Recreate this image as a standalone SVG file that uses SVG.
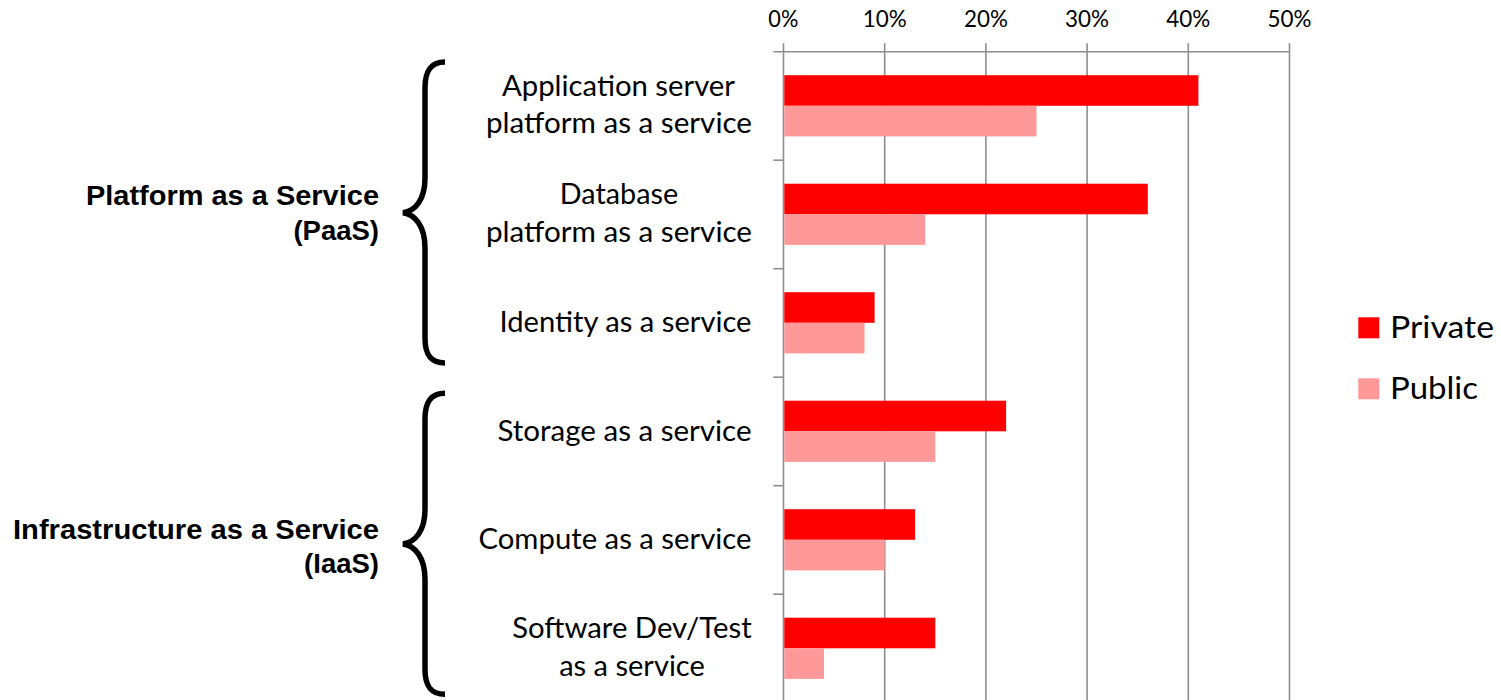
<svg xmlns="http://www.w3.org/2000/svg" width="1501" height="700" viewBox="0 0 1501 700">
  <style>
    .grid { stroke: #8e8e8e; stroke-width: 1.6; fill: none; }
    .tick { font-family: Lato, "Liberation Sans", sans-serif; font-size: 23px; fill: #000; text-anchor: middle; }
    .cat { font-family: Lato, "Liberation Sans", sans-serif; font-size: 28px; fill: #000; }
    .grp { font-family: "Liberation Sans", Arial, sans-serif; font-weight: bold; font-size: 27.5px; fill: #000; text-anchor: end; }
    .leg { font-family: Lato, "Liberation Sans", sans-serif; font-size: 30px; fill: #000; }
    .priv { fill: #ff0000; }
    .pub { fill: #ff9999; }
    .brace { fill: none; stroke: #000; stroke-width: 5.5; }
  </style>
  <defs>
    <path id="bracePath" d="M445,62 C430,62 425,72 425,88 L425,178 C425,200 415,211 403,212.7 C415,214.5 425,226 425,248 L425,338 C425,354 430,363 445,363"/>
  </defs>

  <!-- axis, gridlines and ticks -->
  <g id="axes">
    <line class="grid" x1="783.5" y1="43.3" x2="783.5" y2="700"/>
    <line class="grid" x1="884.7" y1="43.3" x2="884.7" y2="700"/>
    <line class="grid" x1="985.9" y1="43.3" x2="985.9" y2="700"/>
    <line class="grid" x1="1087.1" y1="43.3" x2="1087.1" y2="700"/>
    <line class="grid" x1="1188.3" y1="43.3" x2="1188.3" y2="700"/>
    <line class="grid" x1="1289.5" y1="43.3" x2="1289.5" y2="700"/>
    <line class="grid" x1="773.3" y1="51.7" x2="1289.5" y2="51.7"/>
    <line class="grid" x1="773.3" y1="160.2" x2="783.5" y2="160.2"/>
    <line class="grid" x1="773.3" y1="268.7" x2="783.5" y2="268.7"/>
    <line class="grid" x1="773.3" y1="377.2" x2="783.5" y2="377.2"/>
    <line class="grid" x1="773.3" y1="485.7" x2="783.5" y2="485.7"/>
    <line class="grid" x1="773.3" y1="594.2" x2="783.5" y2="594.2"/>
    <text class="tick" x="783.3" y="27" textLength="30" lengthAdjust="spacingAndGlyphs">0%</text>
    <text class="tick" x="884.7" y="27" textLength="44" lengthAdjust="spacingAndGlyphs">10%</text>
    <text class="tick" x="985.9" y="27" textLength="44" lengthAdjust="spacingAndGlyphs">20%</text>
    <text class="tick" x="1087.1" y="27" textLength="44" lengthAdjust="spacingAndGlyphs">30%</text>
    <text class="tick" x="1188.3" y="27" textLength="44" lengthAdjust="spacingAndGlyphs">40%</text>
    <text class="tick" x="1289.5" y="27" textLength="44" lengthAdjust="spacingAndGlyphs">50%</text>
  </g>

  <!-- bars -->
  <g id="bars">
    <rect class="priv" x="784.3" y="75.2" width="414.1" height="30.6"/>
    <rect class="pub" x="784.3" y="105.8" width="252.2" height="30.6"/>
    <rect class="priv" x="784.3" y="183.7" width="363.5" height="30.6"/>
    <rect class="pub" x="784.3" y="214.3" width="140.9" height="30.6"/>
    <rect class="priv" x="784.3" y="292.2" width="90.3" height="30.6"/>
    <rect class="pub" x="784.3" y="322.8" width="80.2" height="30.6"/>
    <rect class="priv" x="784.3" y="400.7" width="221.8" height="30.6"/>
    <rect class="pub" x="784.3" y="431.3" width="151" height="30.6"/>
    <rect class="priv" x="784.3" y="509.2" width="130.8" height="30.6"/>
    <rect class="pub" x="784.3" y="539.8" width="100.4" height="30.6"/>
    <rect class="priv" x="784.3" y="617.7" width="151" height="30.6"/>
    <rect class="pub" x="784.3" y="648.3" width="39.7" height="30.6"/>
  </g>

  <!-- category labels -->
  <g id="cat-app-server">
    <text class="cat" x="618.5" y="96" text-anchor="middle" textLength="233" lengthAdjust="spacingAndGlyphs">Application server</text>
    <text class="cat" x="619" y="133.3" text-anchor="middle" textLength="266" lengthAdjust="spacingAndGlyphs">platform as a service</text>
  </g>
  <g id="cat-database">
    <text class="cat" x="619" y="204.2" text-anchor="middle" textLength="118.3" lengthAdjust="spacingAndGlyphs">Database</text>
    <text class="cat" x="619" y="241.8" text-anchor="middle" textLength="266" lengthAdjust="spacingAndGlyphs">platform as a service</text>
  </g>
  <g id="cat-identity">
    <text class="cat" x="751.5" y="332.3" text-anchor="end" textLength="252" lengthAdjust="spacingAndGlyphs">Identity as a service</text>
  </g>
  <g id="cat-storage">
    <text class="cat" x="751.5" y="440.5" text-anchor="end" textLength="254" lengthAdjust="spacingAndGlyphs">Storage as a service</text>
  </g>
  <g id="cat-compute">
    <text class="cat" x="751.5" y="549" text-anchor="end" textLength="273" lengthAdjust="spacingAndGlyphs">Compute as a service</text>
  </g>
  <g id="cat-devtest">
    <text class="cat" x="632" y="637.5" text-anchor="middle" textLength="239.5" lengthAdjust="spacingAndGlyphs">Software Dev/Test</text>
    <text class="cat" x="632" y="675.5" text-anchor="middle" textLength="145.6" lengthAdjust="spacingAndGlyphs">as a service</text>
  </g>

  <!-- group brackets -->
  <g id="group-paas">
    <use href="#bracePath" class="brace"/>
    <text class="grp" x="379" y="205" textLength="293" lengthAdjust="spacingAndGlyphs">Platform as a Service</text>
    <text class="grp" x="379" y="240">(PaaS)</text>
  </g>
  <g id="group-iaas">
    <use href="#bracePath" class="brace" transform="translate(0,331.3)"/>
    <text class="grp" x="379" y="539" textLength="366" lengthAdjust="spacingAndGlyphs">Infrastructure as a Service</text>
    <text class="grp" x="379" y="573">(IaaS)</text>
  </g>

  <!-- legend -->
  <g id="legend">
    <rect class="priv" x="1358.3" y="317.3" width="21" height="21"/>
    <text class="leg" x="1390" y="338.3" textLength="104" lengthAdjust="spacingAndGlyphs">Private</text>
    <rect class="pub" x="1358.3" y="378.3" width="21" height="21"/>
    <text class="leg" x="1390" y="399.3" textLength="88" lengthAdjust="spacingAndGlyphs">Public</text>
  </g>
</svg>
